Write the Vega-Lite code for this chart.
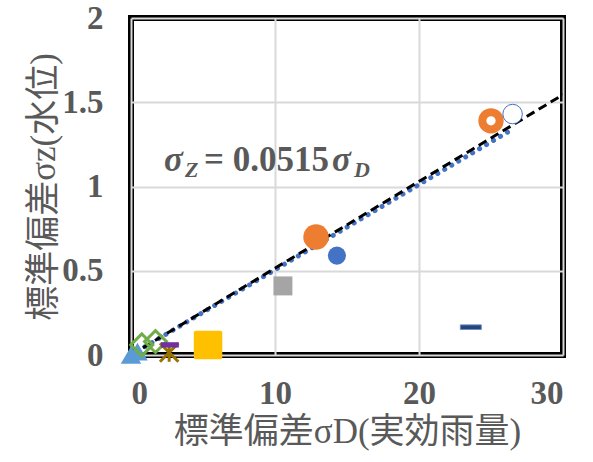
{
  "$schema": "https://vega.github.io/schema/vega-lite/v6.json",
  "width": 432,
  "height": 337,
  "autosize": {"type": "none"},
  "padding": {"left": 131, "top": 18, "right": 30, "bottom": 107},
  "background": "white",
  "config": {
    "view": {"stroke": "black", "strokeWidth": 6},
    "axis": {
      "grid": true,
      "gridColor": "#D9D9D9",
      "gridWidth": 2,
      "domain": false,
      "ticks": false,
      "labelFont": "Liberation Serif",
      "labelFontWeight": "bold",
      "labelFontSize": 33,
      "labelColor": "#595959",
      "labelExpr": "datum.value + ''",
      "titleFont": "Liberation Serif, Noto Sans CJK JP",
      "titleFontWeight": "normal",
      "titleFontSize": 35,
      "titleColor": "#595959"
    }
  },
  "datasets": {
    "pts": [
      {"group": "ring", "sd_rain": 25.0, "sd_level": 1.39},
      {"group": "open", "sd_rain": 26.5, "sd_level": 1.43},
      {"group": "orange", "sd_rain": 12.85, "sd_level": 0.70},
      {"group": "blue", "sd_rain": 14.3, "sd_level": 0.59},
      {"group": "gray", "sd_rain": 10.55, "sd_level": 0.41},
      {"group": "navy", "sd_rain": 23.6, "sd_level": 0.165},
      {"group": "gold", "sd_rain": 5.35, "sd_level": 0.06},
      {"group": "purple", "sd_rain": 2.7, "sd_level": 0.06},
      {"group": "brown", "sd_rain": 2.65, "sd_level": 0.015},
      {"group": "green", "sd_rain": 0.75, "sd_level": 0.06},
      {"group": "green", "sd_rain": 1.7, "sd_level": 0.08},
      {"group": "sky", "sd_rain": 0.0, "sd_level": 0.0},
      {"group": "sky", "sd_rain": 0.45, "sd_level": 0.02}
    ],
    "fit": [
      {"sd_rain": 0, "sd_level": 0},
      {"sd_rain": 30, "sd_level": 1.545}
    ],
    "trend": [
      {"sd_rain": 0, "sd_level": 0},
      {"sd_rain": 26.3, "sd_level": 1.33}
    ],
    "note": [
      {"sd_rain": 10, "sd_level": 1.16}
    ]
  },
  "encoding": {
    "x": {
      "field": "sd_rain",
      "type": "quantitative",
      "scale": {"domain": [0, 30], "nice": false},
      "axis": {"values": [0, 10, 20, 30], "labelPadding": 22, "titlePadding": 4, "title": "標準偏差σD(実効雨量)"}
    },
    "y": {
      "field": "sd_level",
      "type": "quantitative",
      "scale": {"domain": [0, 2], "nice": false},
      "axis": {"values": [0, 0.5, 1, 1.5, 2], "labelPadding": 28, "titlePadding": 0, "title": "標準偏差σz(水位)"}
    }
  },
  "layer": [
    {
      "data": {"name": "trend"},
      "mark": {"type": "line", "color": "#4472C4", "strokeWidth": 5, "strokeDash": [0.1, 8], "strokeCap": "round", "clip": true},
      "encoding": {}
    },
    {
      "data": {"name": "fit"},
      "mark": {"type": "line", "color": "black", "strokeWidth": 3, "strokeDash": [9, 5], "clip": true},
      "encoding": {}
    },
    {
      "data": {"name": "pts"},
      "transform": [{"filter": "datum.group === 'sky'"}],
      "mark": {"type": "point", "shape": "triangle-up", "filled": true, "color": "#5B9BD5", "opacity": 1, "size": 420}
    },
    {
      "data": {"name": "pts"},
      "transform": [{"filter": "datum.group === 'green'"}],
      "mark": {"type": "point", "shape": "diamond", "filled": false, "color": "#70AD47", "strokeWidth": 3, "opacity": 1, "size": 480}
    },
    {
      "data": {"name": "pts"},
      "transform": [{"filter": "datum.group === 'brown'"}],
      "mark": {"type": "point", "shape": "M-1,-1L1,1M1,-1L-1,1M0,-1L0,1", "filled": false, "color": "#997300", "strokeWidth": 3, "opacity": 1, "size": 340}
    },
    {
      "data": {"name": "pts"},
      "transform": [{"filter": "datum.group === 'purple'"}],
      "mark": {"type": "point", "shape": "M-1,-0.3L1,-0.3L1,0.3L-1,0.3Z", "filled": true, "color": "#7030A0", "opacity": 1, "size": 320}
    },
    {
      "data": {"name": "pts"},
      "transform": [{"filter": "datum.group === 'gold'"}],
      "mark": {"type": "point", "shape": "square", "filled": true, "fill": "#FFC000", "stroke": "#FFC000", "strokeWidth": 4, "strokeJoin": "round", "opacity": 1, "size": 600}
    },
    {
      "data": {"name": "pts"},
      "transform": [{"filter": "datum.group === 'gray'"}],
      "mark": {"type": "point", "shape": "square", "filled": true, "color": "#A5A5A5", "opacity": 1, "size": 360}
    },
    {
      "data": {"name": "pts"},
      "transform": [{"filter": "datum.group === 'navy'"}],
      "mark": {"type": "point", "shape": "M-1,-0.22L1,-0.22L1,0.22L-1,0.22Z", "filled": true, "fill": "#264478", "stroke": "#6A8CC8", "strokeWidth": 1, "strokeJoin": "round", "opacity": 1, "size": 440}
    },
    {
      "data": {"name": "pts"},
      "transform": [{"filter": "datum.group === 'blue'"}],
      "mark": {"type": "point", "shape": "circle", "filled": true, "color": "#4472C4", "opacity": 1, "size": 330}
    },
    {
      "data": {"name": "pts"},
      "transform": [{"filter": "datum.group === 'orange'"}],
      "mark": {"type": "point", "shape": "circle", "filled": true, "color": "#ED7D31", "opacity": 1, "size": 650}
    },
    {
      "data": {"name": "pts"},
      "transform": [{"filter": "datum.group === 'ring'"}],
      "mark": {"type": "point", "shape": "circle", "filled": false, "color": "#ED7D31", "strokeWidth": 8, "opacity": 1, "size": 300}
    },
    {
      "data": {"name": "pts"},
      "transform": [{"filter": "datum.group === 'open'"}],
      "mark": {"type": "point", "shape": "circle", "filled": true, "fill": "white", "stroke": "#4472C4", "strokeWidth": 1, "opacity": 1, "size": 380}
    },
    {
      "data": {"name": "note"},
      "mark": {"type": "text", "text": "σ", "font": "Liberation Serif", "fontWeight": "bold", "fontStyle": "italic", "fontSize": 35, "color": "#595959", "align": "left", "baseline": "alphabetic", "dx": -111, "dy": 11}
    },
    {
      "data": {"name": "note"},
      "mark": {"type": "text", "text": "Z", "font": "Liberation Serif", "fontWeight": "bold", "fontStyle": "italic", "fontSize": 22, "color": "#595959", "align": "left", "baseline": "alphabetic", "dx": -90, "dy": 17}
    },
    {
      "data": {"name": "note"},
      "mark": {"type": "text", "text": "= 0.0515", "font": "Liberation Serif", "fontWeight": "bold", "fontSize": 35, "color": "#595959", "align": "left", "baseline": "alphabetic", "dx": -71, "dy": 11}
    },
    {
      "data": {"name": "note"},
      "mark": {"type": "text", "text": "σ", "font": "Liberation Serif", "fontWeight": "bold", "fontStyle": "italic", "fontSize": 35, "color": "#595959", "align": "left", "baseline": "alphabetic", "dx": 57, "dy": 11}
    },
    {
      "data": {"name": "note"},
      "mark": {"type": "text", "text": "D", "font": "Liberation Serif", "fontWeight": "bold", "fontStyle": "italic", "fontSize": 22, "color": "#595959", "align": "left", "baseline": "alphabetic", "dx": 79, "dy": 17}
    }
  ]
}
